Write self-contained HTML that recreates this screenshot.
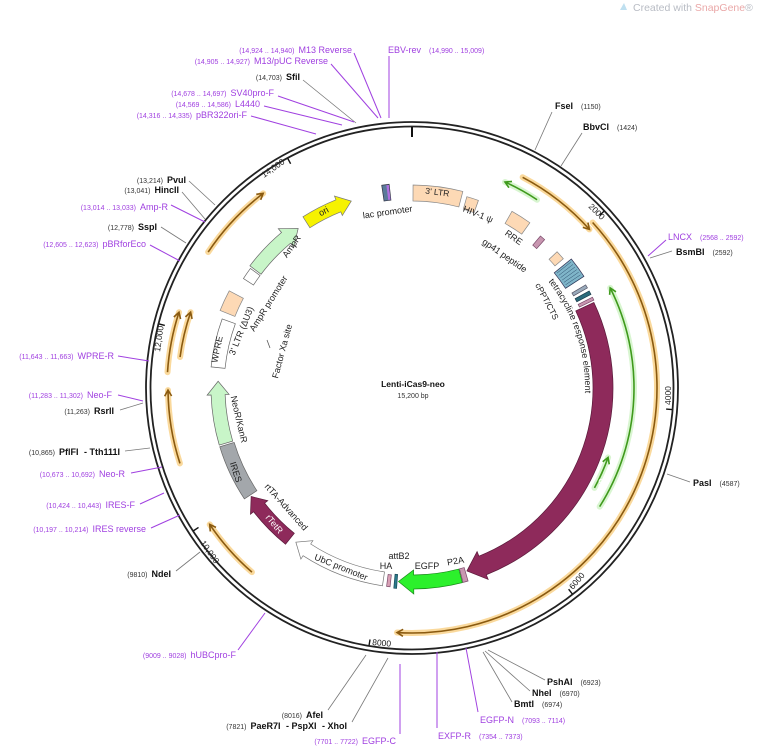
<!DOCTYPE html>
<html><head><meta charset="utf-8"><style>
html,body{margin:0;padding:0;background:#fff;}
svg{display:block;font-family:"Liberation Sans","DejaVu Sans",sans-serif;}
.c{font-size:7px;fill:#333;}
.pc{font-size:7px;fill:#a040e0;}
.pn{font-size:9px;fill:#a040e0;}
.en{font-size:9px;font-weight:bold;fill:#111;}
.fl{font-size:9px;fill:#222;}
.tk{font-size:8.5px;fill:#222;}
.pl{stroke:#a040e0;stroke-width:1;fill:none;}
.el{stroke:#777;stroke-width:0.8;fill:none;}
</style></head><body>
<svg id="s" width="760" height="747" viewBox="0 0 760 747" xmlns="http://www.w3.org/2000/svg">
<defs>
<path id="trePath" d=""/>
</defs>
<g id="shapes"></g>

<circle cx="412" cy="388" r="266" fill="none" stroke="#222" stroke-width="1.8"/>
<circle cx="412" cy="388" r="261.5" fill="none" stroke="#222" stroke-width="1.8"/>
<line x1="412" y1="127" x2="412" y2="137" stroke="#111" stroke-width="2"/>
<g id="ticks"></g>

<text class="tk" transform="translate(588,207) rotate(45)">2000</text>
<text class="tk" transform="translate(671,405) rotate(-90)">4000</text>
<text class="tk" transform="translate(573,590) rotate(-50)">6000</text>
<text class="tk" transform="translate(372,645) rotate(5)">8000</text>
<text class="tk" transform="translate(200,543) rotate(55)">10,000</text>
<text class="tk" transform="translate(160,352) rotate(-82)">12,000</text>
<text class="tk" transform="translate(264,178) rotate(-35)">14,000</text>

<line class="pl" x1="389" y1="56" x2="389" y2="118"/>
<line class="pl" x1="354" y1="53" x2="381" y2="118"/>
<line class="pl" x1="331" y1="64" x2="378" y2="118"/>
<line class="el" x1="303" y1="80" x2="356" y2="123"/>
<line class="pl" x1="278" y1="96" x2="354" y2="122"/>
<line class="pl" x1="264" y1="106" x2="342" y2="125"/>
<line class="pl" x1="251" y1="116" x2="316" y2="134"/>
<line class="el" x1="552" y1="112" x2="535" y2="150"/>
<line class="el" x1="582" y1="133" x2="561" y2="166"/>
<line class="pl" x1="666" y1="240" x2="648" y2="256"/>
<line class="el" x1="672" y1="251" x2="650" y2="258"/>
<line class="el" x1="690" y1="482" x2="667" y2="474"/>
<line class="el" x1="189" y1="181" x2="215" y2="205"/>
<line class="el" x1="182" y1="192" x2="205" y2="219"/>
<line class="pl" x1="171" y1="205" x2="205" y2="222"/>
<line class="el" x1="161" y1="227" x2="186" y2="243"/>
<line class="pl" x1="150" y1="245" x2="180" y2="261"/>
<line class="pl" x1="118" y1="356" x2="149" y2="361"/>
<line class="pl" x1="118" y1="395" x2="143" y2="401"/>
<line class="el" x1="120" y1="410" x2="143" y2="403"/>
<line class="el" x1="125" y1="451" x2="150" y2="448"/>
<line class="pl" x1="131" y1="473" x2="162" y2="467"/>
<line class="pl" x1="140" y1="504" x2="164" y2="493"/>
<line class="pl" x1="151" y1="528" x2="180" y2="515"/>
<line class="el" x1="176" y1="571" x2="200" y2="552"/>
<line class="pl" x1="238" y1="650" x2="265" y2="613"/>
<line class="el" x1="328" y1="710" x2="366" y2="655"/>
<line class="el" x1="352" y1="722" x2="388" y2="658"/>
<line class="pl" x1="400" y1="734" x2="400" y2="664"/>
<line class="pl" x1="437" y1="728" x2="437" y2="652"/>
<line class="pl" x1="478" y1="712" x2="466" y2="648"/>
<line class="el" x1="545" y1="680" x2="488" y2="650"/>
<line class="el" x1="530" y1="691" x2="485" y2="651"/>
<line class="el" x1="512" y1="702" x2="483" y2="652"/>

<text x="352" y="53" text-anchor="end"><tspan class="pc">(14,924 .. 14,940)</tspan><tspan class="pn" dx="4">M13 Reverse</tspan></text>
<text x="328" y="64" text-anchor="end"><tspan class="pc">(14,905 .. 14,927)</tspan><tspan class="pn" dx="4">M13/pUC Reverse</tspan></text>
<text x="300" y="80" text-anchor="end"><tspan class="c">(14,703)</tspan><tspan class="en" dx="4">SfiI</tspan></text>
<text x="274" y="96" text-anchor="end"><tspan class="pc">(14,678 .. 14,697)</tspan><tspan class="pn" dx="4">SV40pro-F</tspan></text>
<text x="260" y="107" text-anchor="end"><tspan class="pc">(14,569 .. 14,586)</tspan><tspan class="pn" dx="4">L4440</tspan></text>
<text x="247" y="118" text-anchor="end"><tspan class="pc">(14,316 .. 14,335)</tspan><tspan class="pn" dx="4">pBR322ori-F</tspan></text>
<text x="388" y="53"><tspan class="pn">EBV-rev</tspan><tspan class="pc" dx="8">(14,990 .. 15,009)</tspan></text>
<text x="555" y="109"><tspan class="en">FseI</tspan><tspan class="c" dx="8">(1150)</tspan></text>
<text x="583" y="130"><tspan class="en">BbvCI</tspan><tspan class="c" dx="8">(1424)</tspan></text>
<text x="668" y="240"><tspan class="pn">LNCX</tspan><tspan class="pc" dx="8">(2568 .. 2592)</tspan></text>
<text x="676" y="255"><tspan class="en">BsmBI</tspan><tspan class="c" dx="8">(2592)</tspan></text>
<text x="693" y="486"><tspan class="en">PasI</tspan><tspan class="c" dx="8">(4587)</tspan></text>
<text x="186" y="183" text-anchor="end"><tspan class="c">(13,214)</tspan><tspan class="en" dx="4">PvuI</tspan></text>
<text x="179" y="193" text-anchor="end"><tspan class="c">(13,041)</tspan><tspan class="en" dx="4">HincII</tspan></text>
<text x="168" y="210" text-anchor="end"><tspan class="pc">(13,014 .. 13,033)</tspan><tspan class="pn" dx="4">Amp-R</tspan></text>
<text x="157" y="230" text-anchor="end"><tspan class="c">(12,778)</tspan><tspan class="en" dx="4">SspI</tspan></text>
<text x="146" y="247" text-anchor="end"><tspan class="pc">(12,605 .. 12,623)</tspan><tspan class="pn" dx="4">pBRforEco</tspan></text>
<text x="114" y="359" text-anchor="end"><tspan class="pc">(11,643 .. 11,663)</tspan><tspan class="pn" dx="4">WPRE-R</tspan></text>
<text x="112" y="398" text-anchor="end"><tspan class="pc">(11,283 .. 11,302)</tspan><tspan class="pn" dx="4">Neo-F</tspan></text>
<text x="114" y="414" text-anchor="end"><tspan class="c">(11,263)</tspan><tspan class="en" dx="4">RsrII</tspan></text>
<text x="120" y="455" text-anchor="end"><tspan class="c">(10,865)</tspan><tspan class="en" dx="4">PflFI</tspan><tspan class="en" dx="3"> - Tth111I</tspan></text>
<text x="125" y="477" text-anchor="end"><tspan class="pc">(10,673 .. 10,692)</tspan><tspan class="pn" dx="4">Neo-R</tspan></text>
<text x="135" y="508" text-anchor="end"><tspan class="pc">(10,424 .. 10,443)</tspan><tspan class="pn" dx="4">IRES-F</tspan></text>
<text x="146" y="532" text-anchor="end"><tspan class="pc">(10,197 .. 10,214)</tspan><tspan class="pn" dx="4">IRES reverse</tspan></text>
<text x="171" y="577" text-anchor="end"><tspan class="c">(9810)</tspan><tspan class="en" dx="4">NdeI</tspan></text>
<text x="236" y="658" text-anchor="end"><tspan class="pc">(9009 .. 9028)</tspan><tspan class="pn" dx="4">hUBCpro-F</tspan></text>
<text x="323" y="718" text-anchor="end"><tspan class="c">(8016)</tspan><tspan class="en" dx="4">AfeI</tspan></text>
<text x="347" y="729" text-anchor="end"><tspan class="c">(7821)</tspan><tspan class="en" dx="4">PaeR7I</tspan><tspan class="en" dx="3"> - PspXI</tspan><tspan class="en" dx="3"> - XhoI</tspan></text>
<text x="396" y="744" text-anchor="end"><tspan class="pc">(7701 .. 7722)</tspan><tspan class="pn" dx="4">EGFP-C</tspan></text>
<text x="438" y="739"><tspan class="pn">EXFP-R</tspan><tspan class="pc" dx="8">(7354 .. 7373)</tspan></text>
<text x="480" y="723"><tspan class="pn">EGFP-N</tspan><tspan class="pc" dx="8">(7093 .. 7114)</tspan></text>
<text x="547" y="685"><tspan class="en">PshAI</tspan><tspan class="c" dx="8">(6923)</tspan></text>
<text x="532" y="696"><tspan class="en">NheI</tspan><tspan class="c" dx="8">(6970)</tspan></text>
<text x="514" y="707"><tspan class="en">BmtI</tspan><tspan class="c" dx="8">(6974)</tspan></text>

<path d="M620,10 L624,3 L627,10 Z" fill="#bfe0f0"/>
<text x="633" y="11" style="font-size:10.5px;fill:#b8bcc4">Created with <tspan fill="#eaa8a8">SnapGene</tspan>®</text>

<text x="413" y="387" text-anchor="middle" style="font-size:8.5px;font-weight:bold;fill:#111">Lenti-iCas9-neo</text>
<text x="413" y="398" text-anchor="middle" style="font-size:7px;fill:#333">15,200 bp</text>

<text class="fl" transform="translate(437,195) rotate(7)" text-anchor="middle" style="font-size:8.5px">3' LTR</text>
<text class="fl" transform="translate(388,215) rotate(-8)" text-anchor="middle">lac promoter</text>
<text class="fl" transform="translate(477,217) rotate(22)" text-anchor="middle">HIV-1 ψ</text>
<text class="fl" transform="translate(512,240) rotate(35)" text-anchor="middle">RRE</text>
<text class="fl" transform="translate(503,258) rotate(35)" text-anchor="middle">gp41 peptide</text>
<text class="fl" transform="translate(535,285) rotate(62)" style="font-size:8.5px">cPPT/CTS</text>
<text class="fl" style="font-size:9px"><textPath href="#trePath">tetracycline response element</textPath></text>
<text transform="translate(602,490) rotate(-70)" text-anchor="middle" style="font-size:9px;fill:#fff">Cas9</text>
<text class="fl" transform="translate(456,564) rotate(-10)" text-anchor="middle">P2A</text>
<text class="fl" transform="translate(427,569)" text-anchor="middle">EGFP</text>
<text class="fl" transform="translate(386,569)" text-anchor="middle">HA</text>
<text class="fl" transform="translate(399,559)" text-anchor="middle">attB2</text>
<text class="fl" transform="translate(340,570) rotate(22)" text-anchor="middle">UbC promoter</text>
<text transform="translate(272,526) rotate(50)" text-anchor="middle" style="font-size:9px;fill:#fff">rTetR</text>
<text class="fl" transform="translate(284,509) rotate(48)" text-anchor="middle">rtTA-Advanced</text>
<text transform="translate(233,473) rotate(72)" text-anchor="middle" style="font-size:9px;fill:#222">IRES</text>
<text class="fl" transform="translate(236,420) rotate(77)" text-anchor="middle">NeoR/KanR</text>
<text class="fl" transform="translate(220,350) rotate(-78)" text-anchor="middle">WPRE</text>
<text class="fl" transform="translate(244,332) rotate(-68)" text-anchor="middle">3' LTR (ΔU3)</text>
<text class="fl" transform="translate(271,305) rotate(-58)" text-anchor="middle">AmpR promoter</text>
<text class="fl" transform="translate(285,352) rotate(-75)" text-anchor="middle">Factor Xa site</text>
<line x1="267" y1="340" x2="270" y2="348" stroke="#555" stroke-width="0.8"/>
<text class="fl" transform="translate(294,248) rotate(-55)" text-anchor="middle">AmpR</text>
<text class="fl" transform="translate(325,214) rotate(-28)" text-anchor="middle">ori</text>

<script>
(function(){
var CX=412,CY=388,NS="http://www.w3.org/2000/svg";
function P(a,r){var t=a*Math.PI/180;return (CX+r*Math.sin(t)).toFixed(2)+","+(CY-r*Math.cos(t)).toFixed(2);}
function arc(a1,a2,r){return "M"+P(a1,r)+" A"+r+","+r+" 0 "+((a2-a1)>180?1:0)+" 1 "+P(a2,r);}
var g=document.getElementById("shapes");
function add(tag,attrs,parent){var e=document.createElementNS(NS,tag);for(var k in attrs)e.setAttribute(k,attrs[k]);(parent||g).appendChild(e);return e;}
function band(a1,a2,r1,r2,dir,hd,hw,fill,stroke){
 var rm=(r1+r2)/2,d,L;
 if(dir===1){var ah=a2-hd;L=(ah-a1)>180?1:0;
  d="M"+P(a1,r2)+" A"+r2+","+r2+" 0 "+L+" 1 "+P(ah,r2)+" L"+P(ah,r2+hw)+" L"+P(a2,rm)+" L"+P(ah,r1-hw)+" L"+P(ah,r1)+" A"+r1+","+r1+" 0 "+L+" 0 "+P(a1,r1)+" Z";}
 else if(dir===-1){var ah2=a1+hd;L=(a2-ah2)>180?1:0;
  d="M"+P(ah2,r2)+" A"+r2+","+r2+" 0 "+L+" 1 "+P(a2,r2)+" L"+P(a2,r1)+" A"+r1+","+r1+" 0 "+L+" 0 "+P(ah2,r1)+" L"+P(ah2,r1-hw)+" L"+P(a1,rm)+" L"+P(ah2,r2+hw)+" Z";}
 else{L=(a2-a1)>180?1:0;
  d="M"+P(a1,r2)+" A"+r2+","+r2+" 0 "+L+" 1 "+P(a2,r2)+" L"+P(a2,r1)+" A"+r1+","+r1+" 0 "+L+" 0 "+P(a1,r1)+" Z";}
 add("path",{d:d,fill:fill,stroke:stroke||"#666","stroke-width":0.7});
}
function line(a1,a2,r,dir,col,glow){
 var d=arc(a1,a2,r);
 add("path",{d:d,fill:"none",stroke:glow,"stroke-width":6,"stroke-opacity":0.55,"stroke-linecap":"round"});
 add("path",{d:d,fill:"none",stroke:col,"stroke-width":1.6});
 var dd=6/r*180/Math.PI, tip, w1, w2;
 if(dir===1){tip=P(a2,r);w1=P(a2-dd,r+3.5);w2=P(a2-dd,r-3.5);}
 else{tip=P(a1,r);w1=P(a1+dd,r+3.5);w2=P(a1+dd,r-3.5);}
 add("path",{d:"M"+w1+" L"+tip+" L"+w2,fill:"none",stroke:col,"stroke-width":1.6});
}
var OR="#8a5a10",OG="#f6b94a",GR="#3f9a1c",GG="#b8ecaa";
line(27.7,48.2,238,1,OR,OG);
line(47.5,183.5,245,1,OR,OG);
line(303.7,322.6,245,1,OR,OG);
line(273.7,288,245,1,OR,OG);
line(277.6,288.9,234,1,OR,OG);
line(252,269.5,244,1,OR,OG);
line(221,236,244,1,OR,OG);
line(24.3,33.6,226,-1,GR,GG);
line(63.2,122.3,222,-1,GR,GG);
line(109.5,118.7,208,-1,GR,GG);

var PE="#fdd9b5",MA="#8e2a5b",LG="#c8f5c8";
band(64.8,163.3,181,201,1,5,5,MA,"#5a1a3a");
band(165.5,184,187,201,1,4.5,5,"#2cf02c","#1a8a1a");
band(163.8,165.3,187,201,0,0,0,"#c896b0","#7a4a6a");
band(184.4,185.2,187,201,0,0,0,"#2a7a8a","#1a4a5a");
band(186.3,187.3,188,200,0,0,0,"#d9a0b5","#7a4a6a");
band(188.5,217,186,200,1,4,4,"#fff","#777");
band(219,236,187,201,1,4,4,MA,"#5a1a3a");
band(236.5,253,186,201,0,0,0,"#a3a7ab","#666");
band(253.5,272,187,201,1,4,4,LG,"#666");
band(276,290,188,202,0,0,0,"#fff","#666");
band(292,298,191,207,0,0,0,PE,"#888");
band(303,306.5,189,201,0,0,0,"#fff","#666");
band(307,324.5,189,203,1,4.5,5,LG,"#666");
band(327.5,342,190,203,1,4,4,"#f6f200","#777");
band(351.5,353.6,189,205,0,0,0,"#5a7a9a","#334");
band(352.9,353.4,190,204,0,0,0,"#b070e0","#b070e0");
band(0.3,14.5,187,203,0,0,0,PE,"#888");
band(16,19.5,186,199,0,0,0,PE,"#888");
band(29.5,35.5,189,203,0,0,0,PE,"#888");
band(40.2,41.8,187,199,0,0,0,"#c896b0","#7a4a6a");
band(46.8,49.5,188,199,0,0,0,PE,"#888");
band(51,57,183,205,0,0,0,"#7fb5c9","#335");
band(59.3,60.3,186,202,0,0,0,"#9ab","#556");
band(61.3,62.4,186,202,0,0,0,"#2a6a7a","#1a3a4a");
band(63.3,64.2,186,202,0,0,0,"#c896b0","#7a4a6a");
for(var a=51.6;a<57;a+=0.9){add("path",{d:"M"+P(a,185)+" L"+P(a,203),stroke:"#2a4a6a","stroke-width":0.5,fill:"none"});}
document.getElementById("trePath").setAttribute("d",arc(52,110,173));
var tg=document.getElementById("ticks");
[2000,4000,6000,8000,10000,12000,14000].forEach(function(p){var a=p/15200*360;
 add("path",{d:"M"+P(a,261)+" L"+P(a,255),stroke:"#111","stroke-width":1.4},tg);});
})();
</script>
</svg>
</body></html>
